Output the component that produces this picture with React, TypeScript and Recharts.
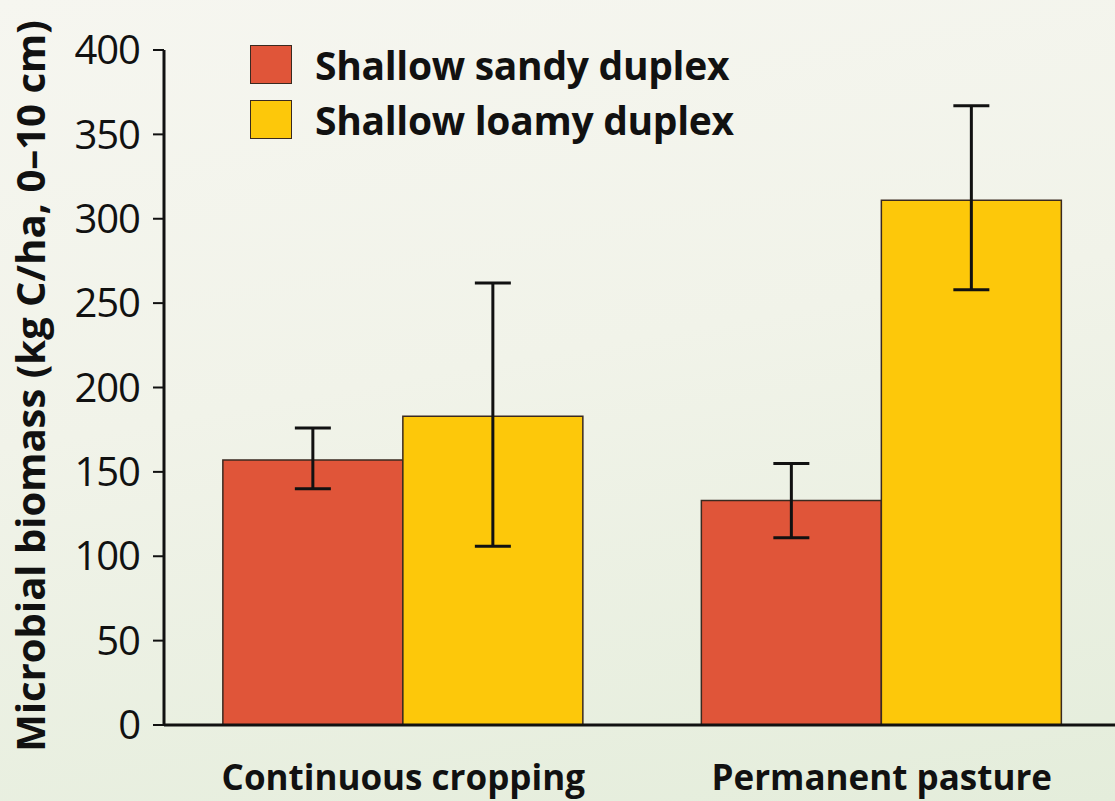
import { BarChart, Bar, XAxis, YAxis, ErrorBar, Legend } from 'recharts';

const categories = ['Continuous cropping', 'Permanent pasture'];
const sandyValues = [157, 133];
const sandyErrors = [[17, 19], [22, 22]];
const loamyValues = [183, 311];
const loamyErrors = [[77, 79], [53, 56]];
const yTicks = [0, 50, 100, 150, 200, 250, 300, 350, 400];

const seriesNames = ['Shallow sandy duplex', 'Shallow loamy duplex'];
const RED = '#e05539';
const YELLOW = '#fdc80a';
const FONT = '"Open Sans", "Noto Sans", sans-serif';

const data = categories.map((name, i) => ({
  name,
  sandy: sandyValues[i],
  sandyErr: sandyErrors[i],
  loamy: loamyValues[i],
  loamyErr: loamyErrors[i],
}));

// legend drawn as two stacked swatch rows
const renderLegend = () => {
  const items = [
    { label: seriesNames[0], color: RED },
    { label: seriesNames[1], color: YELLOW },
  ];
  return (
    <div style={{ fontFamily: FONT }}>
      {items.map((it) => (
        <div key={it.label} style={{ display: 'flex', alignItems: 'center', height: 55 }}>
          <div
            style={{
              width: 42,
              height: 39,
              background: it.color,
              border: '1.5px solid #3a2a20',
              marginRight: 23,
              boxSizing: 'border-box',
            }}
          />
          <span style={{ fontSize: 39, fontWeight: 700, color: '#111', whiteSpace: 'nowrap', letterSpacing: -0.3 }}>
            {it.label}
          </span>
        </div>
      ))}
    </div>
  );
};

const YLabel = () => (
  <text
    x={45}
    y={386}
    transform="rotate(-90, 45, 386)"
    textAnchor="middle"
    fontFamily={FONT}
    fontSize={40}
    fontWeight={700}
    fill="#111"
  >
    Microbial biomass (kg C/ha, 0–10 cm)
  </text>
);

export default function App() {
  return (
    <div
      style={{
        position: 'absolute',
        left: 0,
        top: 0,
        width: 1115,
        height: 801,
        background: 'linear-gradient(170deg, #f6f6f0 0%, #f1f3e9 45%, #e4eddb 100%)',
        overflow: 'hidden',
      }}
    >
      <BarChart
        width={1115}
        height={801}
        data={data}
        margin={{ top: 50, right: -6, bottom: 0, left: 0 }}
        barCategoryGap="12.3%"
        barGap={0}
      >
        <XAxis
          dataKey="name"
          height={76}
          axisLine={{ stroke: '#111', strokeWidth: 3 }}
          tickLine={false}
          tickMargin={34}
          tick={{ fontFamily: FONT, fontSize: 35, fontWeight: 700, fill: '#111' }}
        />
        <YAxis
          width={164}
          domain={[0, 400]}
          ticks={yTicks}
          interval={0}
          axisLine={{ stroke: '#111', strokeWidth: 3 }}
          tickLine={{ stroke: '#111', strokeWidth: 2 }}
          tickSize={11}
          tickMargin={13}
          tick={{ fontFamily: FONT, fontSize: 40, fill: '#111', letterSpacing: -1 }}
          label={{ content: () => <YLabel /> }}
        />
        <Legend
          layout="vertical"
          align="center"
          verticalAlign="middle"
          content={renderLegend}
          wrapperStyle={{ left: 250, top: 37, width: 600 }}
        />
        <Bar dataKey="sandy" name={seriesNames[0]} fill={RED} stroke="#3a2a20" strokeWidth={1.5} isAnimationActive={false}>
          <ErrorBar dataKey="sandyErr" direction="y" width={18} stroke="#111" strokeWidth={3} />
        </Bar>
        <Bar dataKey="loamy" name={seriesNames[1]} fill={YELLOW} stroke="#3a2a20" strokeWidth={1.5} isAnimationActive={false}>
          <ErrorBar dataKey="loamyErr" direction="y" width={18} stroke="#111" strokeWidth={3} />
        </Bar>
      </BarChart>
    </div>
  );
}
